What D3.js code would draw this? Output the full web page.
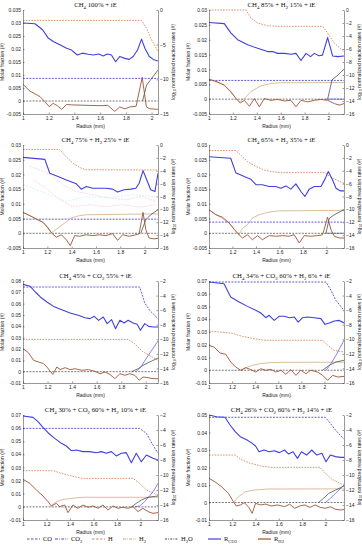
<!DOCTYPE html>
<html><head><meta charset="utf-8">
<script src="https://cdn.jsdelivr.net/npm/d3@7"></script>
<style>body{margin:0;background:#fff}svg{display:block}</style>
</head><body>
<svg id="c" width="362" height="550"></svg>
<script>
// ---------- tick labels ----------
const xTicks = [1, 1.2, 1.4, 1.6, 1.8, 2];
const leftTicksA = [-0.005, 0, 0.005, 0.01, 0.015, 0.02, 0.025, 0.03, 0.035];
const leftTicksB = [-0.005, 0, 0.005, 0.01, 0.015, 0.02, 0.025, 0.03];
const leftTicks5 = [-0.01, 0, 0.01, 0.02, 0.03, 0.04, 0.05, 0.06, 0.07, 0.08];
const leftTicks67 = [-0.01, 0, 0.01, 0.02, 0.03, 0.04, 0.05, 0.06, 0.07];
const leftTicks8 = [-0.01, 0, 0.01, 0.02, 0.03, 0.04, 0.05];
const rightTicks1 = [0, -5, -10, -15];
const rightTicks24 = [0, -2, -4, -6, -8, -10, -12, -14, -16];
const rightTicks58 = [-2, -4, -6, -8, -10, -12, -14, -16];
const legendLabels = [["CO"], ["CO", "2"], ["H"], ["H", "2"], ["H", "2", "O"], ["R", "CO2"], ["R", "H2"]];

// ---------- panel 1 ----------
const p1_Rco2 = [[1,0.030],[1.093,0.0297],[1.152,0.0274],[1.196,0.0242],[1.235,0.0229],[1.287,0.0216],[1.339,0.0203],[1.378,0.0196],[1.422,0.0177],[1.463,0.0184],[1.507,0.018],[1.546,0.0177],[1.59,0.0181],[1.624,0.0173],[1.655,0.0181],[1.688,0.0177],[1.72,0.0151],[1.752,0.0171],[1.792,0.0164],[1.826,0.016],[1.857,0.0171],[1.891,0.0196],[1.922,0.0238],[1.948,0.0203],[1.982,0.0171],[2.013,0.016],[2.05,0.0154]];
const p1_H = [[1,0.031],[1.92,0.031],[1.961,0.028],[2.0,0.0235],[2.05,0.019]];
const p1_CO = [[1,0.0087],[2.05,0.0087]];
const p1_Rh2 = [[1,0.0064],[1.054,0.0038],[1.132,0.0017],[1.171,-0.0003],[1.204,-0.0022],[1.235,-0.0009],[1.267,-0.0018],[1.301,-0.0032],[1.34,-0.0013],[1.378,-0.0015],[1.45,-0.0016],[1.52,-0.0017],[1.6,-0.0018],[1.66,-0.0017],[1.714,-0.004],[1.752,-0.0023],[1.792,-0.003],[1.83,-0.0023],[1.88,-0.002],[1.927,0.0091],[1.96,-0.0023],[1.987,-0.003],[2.05,-0.0032]];
const p1_H2 = [];
const p1_dark = [[1.93,0],[1.961,0.0061],[1.99,0.008],[2.05,0.0119]];
const p1_blue2 = [];

// ---------- panel 2 ----------
const p2_Rco2 = [[1,0.0258],[1.128,0.0254],[1.184,0.0222],[1.24,0.02],[1.324,0.0183],[1.407,0.0171],[1.491,0.016],[1.533,0.016],[1.575,0.0154],[1.631,0.0154],[1.686,0.0151],[1.728,0.0154],[1.77,0.013],[1.812,0.0154],[1.85,0.0143],[1.882,0.0154],[1.92,0.0146],[1.95,0.0148],[1.993,0.0207],[2.035,0.0145],[2.077,0.0143],[2.13,0.0145]];
const p2_H = [[1,0.03],[1.31,0.03],[1.351,0.0273],[1.407,0.0256],[1.491,0.0247],[1.575,0.0245],[1.95,0.0245],[1.994,0.0222],[2.05,0.0188],[2.13,0.016]];
const p2_CO = [[1,0.0063],[2.13,0.0063]];
const p2_Rh2 = [[1,0.0067],[1.072,0.0058],[1.128,0.0047],[1.184,0.0025],[1.226,0.0002],[1.262,-0.0013],[1.296,-0.0004],[1.338,-0.0024],[1.38,0.0002],[1.421,-0.0026],[1.463,0.0002],[1.519,-0.0004],[1.575,-0.0001],[1.631,-0.0006],[1.686,-0.0004],[1.728,-0.0026],[1.77,-0.0004],[1.826,-0.0009],[1.882,-0.0004],[1.937,-0.0001],[1.993,-0.0004],[2.05,-0.0015],[2.09,-0.002],[2.13,-0.0015]];
const p2_H2 = [[1,0.0067],[1.128,0.0047],[1.2,0.0015],[1.254,-0.0009],[1.296,0.0002],[1.35,0.0025],[1.43,0.0044],[1.52,0.0053],[1.6,0.0055],[2.13,0.0056]];
const p2_dark = [[1.993,0],[2.03,0.0065],[2.08,0.0081],[2.13,0.0101]];
const p2_blue2 = [[1.97,0],[2.13,0]];

// ---------- panel 3 ----------
const p3_Rco2 = [[1,0.0258],[1.18,0.0251],[1.22,0.0204],[1.288,0.0193],[1.356,0.0181],[1.438,0.0168],[1.479,0.015],[1.52,0.0159],[1.574,0.0153],[1.628,0.0153],[1.683,0.0153],[1.737,0.015],[1.778,0.014],[1.832,0.0148],[1.887,0.015],[1.928,0.0153],[1.955,0.017],[1.987,0.0213],[2.023,0.0176],[2.05,0.0148],[2.085,0.0142],[2.11,0.0204]];
const p3_H = [[1,0.0285],[1.3,0.0285],[1.356,0.026],[1.41,0.0238],[1.479,0.0221],[1.52,0.0216],[2.11,0.0215]];
const p3_CO = [[1,0.0048],[2.11,0.0048]];
const p3_Rh2 = [[1,0.0071],[1.057,0.006],[1.112,0.0048],[1.166,0.0037],[1.207,0.0018],[1.234,0.0001],[1.275,-0.0013],[1.316,-0.0005],[1.356,-0.0022],[1.389,-0.0042],[1.424,-0.0008],[1.465,-0.001],[1.52,-0.0005],[1.574,-0.0008],[1.628,-0.0005],[1.683,-0.0008],[1.737,-0.0001],[1.778,-0.0024],[1.819,-0.0005],[1.873,-0.001],[1.928,-0.0005],[1.955,-0.0001],[1.987,0.0071],[2.01,0.0012],[2.036,-0.0016],[2.077,-0.0019],[2.11,-0.0017]];
const p3_H2 = [[1,0.0071],[1.166,0.0037],[1.234,0.0001],[1.288,0.0018],[1.343,0.0035],[1.397,0.0052],[1.465,0.006],[1.52,0.0063],[2.11,0.0066]];
const p3_dark = [[1.968,0],[2.01,0.0046],[2.05,0.0063],[2.11,0.008]];
const p3_blue2 = [];
const p3_faintA = [[1.057,0.0229],[1.166,0.021],[1.248,0.0193],[1.329,0.0165],[1.438,0.0142],[1.574,0.0131],[1.71,0.012],[1.846,0.0114],[1.982,0.0125],[2.09,0.0108]];
const p3_faintB = [[1.084,0.0181],[1.193,0.0153],[1.302,0.0114],[1.41,0.0091],[1.547,0.0097],[1.683,0.0091],[1.819,0.0097],[1.955,0.0089],[2.09,0.0097]];
const p3_faintC = [[1.0,0.0165],[1.112,0.0148],[1.22,0.0131],[1.356,0.0108],[1.52,0.0125],[1.683,0.012],[1.9,0.0131],[2.09,0.0125]];

// ---------- panel 4 ----------
const p4_Rco2 = [[1,0.026],[1.185,0.0255],[1.228,0.0206],[1.3,0.0193],[1.356,0.0184],[1.4,0.0165],[1.455,0.0165],[1.512,0.0159],[1.569,0.0159],[1.612,0.0153],[1.655,0.0161],[1.697,0.015],[1.74,0.0168],[1.783,0.0142],[1.817,0.0125],[1.854,0.015],[1.897,0.0159],[1.954,0.0159],[1.988,0.0184],[2.016,0.021],[2.053,0.0181],[2.082,0.0153],[2.12,0.0144],[2.15,0.0144]];
const p4_H = [[1,0.0281],[1.228,0.0281],[1.27,0.0266],[1.327,0.0244],[1.4,0.0227],[1.47,0.0215],[1.527,0.021],[1.6,0.0206],[1.982,0.0206],[2.053,0.0187],[2.15,0.017]];
const p4_CO = [[1,0.0038],[2.15,0.0038]];
const p4_Rh2 = [[1,0.008],[1.057,0.0063],[1.114,0.0055],[1.171,0.0035],[1.213,0.0014],[1.256,-0.0005],[1.285,-0.0016],[1.327,-0.0005],[1.37,-0.0022],[1.413,-0.0008],[1.455,-0.0022],[1.512,-0.0008],[1.569,-0.001],[1.626,-0.0008],[1.683,-0.001],[1.726,-0.0005],[1.769,-0.0033],[1.811,-0.0008],[1.868,-0.001],[1.925,-0.0008],[1.968,-0.0005],[2.01,0.0055],[2.039,0.0012],[2.067,-0.001],[2.11,-0.0016],[2.15,-0.0016]];
const p4_H2 = [[1,0.008],[1.171,0.0035],[1.256,-0.0005],[1.285,0.0017],[1.327,0.0029],[1.37,0.0052],[1.427,0.0063],[1.498,0.0071],[1.584,0.0076],[2.15,0.0078]];
const p4_dark = [[1.996,0],[2.025,0.0051],[2.067,0.0063],[2.15,0.008]];
const p4_blue2 = [[1.99,0],[2.15,0]];

// ---------- panel 5 ----------
const p5_Rco2 = [[1,0.077],[1.059,0.0753],[1.1,0.0703],[1.141,0.0659],[1.195,0.0615],[1.249,0.0576],[1.316,0.0547],[1.384,0.0518],[1.451,0.0497],[1.505,0.0476],[1.546,0.0468],[1.581,0.0488],[1.616,0.0453],[1.654,0.0482],[1.686,0.0424],[1.722,0.0459],[1.754,0.0379],[1.789,0.0453],[1.824,0.0429],[1.857,0.0453],[1.897,0.0429],[1.93,0.0418],[1.957,0.0365],[1.992,0.0424],[2.024,0.04],[2.065,0.0394],[2.1,0.0394]];
const p5_CO = [[1,0.0747],[1.951,0.0747],[1.992,0.0606],[2.032,0.0541],[2.1,0.0468]];
const p5_H = [[1,0.0285],[1.857,0.0285],[1.91,0.0247],[1.978,0.0174],[2.03,0.0144],[2.1,0.01]];
const p5_Rh2 = [[1,0.0203],[1.046,0.0165],[1.086,0.01],[1.127,0.0085],[1.168,0.0071],[1.195,0.0041],[1.222,0.0003],[1.243,-0.0024],[1.276,0.0041],[1.303,0.0018],[1.343,0.0035],[1.384,0.0018],[1.424,0.0026],[1.478,0.0012],[1.532,0.0018],[1.586,0.0003],[1.627,-0.0018],[1.668,-0.0003],[1.708,-0.0024],[1.749,-0.0062],[1.789,-0.0018],[1.83,-0.0032],[1.87,-0.0018],[1.911,-0.0032],[1.946,-0.0076],[1.978,-0.0047],[2.019,-0.0053],[2.059,-0.0062],[2.1,-0.0062]];
const p5_H2 = [];
const p5_dark = [[1.884,0],[1.938,0.0026],[1.978,0.0056],[2.032,0.0085],[2.1,0.012]];
const p5_blue2 = [[1.92,0],[1.96,0.004],[2.0,0.011],[2.05,0.019],[2.1,0.027]];

// ---------- panel 6 ----------
const p6_Rco2 = [[1,0.0692],[1.13,0.0679],[1.188,0.0575],[1.261,0.0535],[1.333,0.0501],[1.405,0.047],[1.449,0.0449],[1.492,0.0412],[1.521,0.0431],[1.565,0.0391],[1.608,0.0423],[1.652,0.0423],[1.695,0.0412],[1.738,0.0418],[1.773,0.0378],[1.811,0.0412],[1.854,0.0418],[1.912,0.0412],[1.97,0.0405],[2.005,0.036],[2.043,0.0371],[2.086,0.0386],[2.129,0.0391],[2.17,0.0371]];
const p6_CO = [[1,0.0692],[2.014,0.0692],[2.057,0.0627],[2.1,0.0548],[2.17,0.047]];
const p6_H = [[1,0.0308],[1.188,0.0292],[1.29,0.0266],[1.39,0.0248],[1.478,0.0235],[1.985,0.0235],[2.028,0.0195],[2.086,0.0156],[2.17,0.0143]];
const p6_Rh2 = [[1,0.0195],[1.043,0.0182],[1.096,0.0135],[1.145,0.0125],[1.188,0.0065],[1.232,0.0025],[1.275,0],[1.319,0.002],[1.362,0.0005],[1.405,-0.0014],[1.449,0.0012],[1.492,0],[1.536,0.0007],[1.579,-0.0014],[1.623,0],[1.666,-0.0032],[1.71,0.0005],[1.753,-0.004],[1.796,0],[1.84,-0.0027],[1.883,0],[1.941,-0.0014],[1.985,-0.004],[2.028,-0.0079],[2.072,-0.004],[2.115,-0.0053],[2.17,-0.0048]];
const p6_H2 = [[1.275,0],[1.319,0.002],[1.376,0.0039],[1.449,0.0052],[1.536,0.006],[1.623,0.0062],[2.17,0.0063]];
const p6_dark = [[1.985,0],[2.043,0.0039],[2.1,0.0065],[2.17,0.0078]];
const p6_blue2 = [[2.014,0],[2.057,0.0052],[2.1,0.0117],[2.17,0.0235]];

// ---------- panel 7 ----------
const p7_Rco2 = [[1,0.0692],[1.085,0.0682],[1.128,0.0649],[1.17,0.0606],[1.213,0.0565],[1.27,0.0522],[1.327,0.0484],[1.369,0.0464],[1.412,0.0428],[1.454,0.0433],[1.511,0.0421],[1.568,0.0421],[1.625,0.0413],[1.667,0.0421],[1.71,0.0408],[1.752,0.0421],[1.795,0.0388],[1.838,0.0408],[1.88,0.0413],[1.923,0.0337],[1.965,0.0408],[2.008,0.0344],[2.051,0.0395],[2.107,0.037],[2.15,0.0357]];
const p7_CO = [[1,0.0598],[1.994,0.0598],[2.051,0.056],[2.107,0.0471],[2.15,0.0408]];
const p7_H = [[1,0.0276],[1.256,0.0276],[1.327,0.0256],[1.412,0.0235],[1.511,0.0217],[1.937,0.0217],[1.994,0.0179],[2.051,0.0129],[2.15,0.009]];
const p7_Rh2 = [[1,0.021],[1.057,0.0179],[1.114,0.0129],[1.17,0.0083],[1.213,0.004],[1.241,0.0007],[1.284,0.0027],[1.312,0.0002],[1.355,0.0014],[1.383,-0.0044],[1.426,0.0014],[1.468,-0.0011],[1.511,0.0014],[1.554,-0.0003],[1.596,0.0007],[1.639,-0.0011],[1.681,0.0014],[1.724,-0.0024],[1.767,0.0007],[1.809,-0.0011],[1.852,-0.0003],[1.894,-0.0011],[1.937,0.0002],[1.98,-0.0036],[2.022,-0.0011],[2.065,-0.0036],[2.107,-0.0049],[2.15,-0.0044]];
const p7_H2 = [[1.241,0.0007],[1.284,0.004],[1.341,0.0057],[1.412,0.0065],[1.511,0.0073],[2.15,0.0073]];
const p7_dark = [[1.923,0],[1.965,0.0027],[2.008,0.0052],[2.065,0.0073],[2.15,0.0083]];
const p7_blue2 = [[1.951,0],[1.994,0.0007],[2.036,0.004],[2.079,0.0083],[2.122,0.0134],[2.15,0.018]];

// ---------- panel 8 ----------
const p8_Rco2 = [[1,0.05],[1.064,0.049],[1.137,0.0487],[1.181,0.0443],[1.225,0.0405],[1.269,0.0376],[1.327,0.0357],[1.371,0.0338],[1.4,0.0323],[1.43,0.029],[1.473,0.03],[1.517,0.029],[1.561,0.0296],[1.605,0.0285],[1.649,0.03],[1.684,0.0277],[1.722,0.029],[1.76,0.0252],[1.795,0.029],[1.839,0.0271],[1.883,0.03],[1.926,0.0271],[1.97,0.0281],[2.005,0.0233],[2.043,0.0271],[2.087,0.0262],[2.131,0.0258],[2.16,0.0258]];
const p8_CO = [[1,0.0487],[1.999,0.0487],[2.043,0.0452],[2.087,0.0414],[2.16,0.0361]];
const p8_H = [[1,0.0271],[1.225,0.0271],[1.283,0.0243],[1.357,0.0224],[1.444,0.0209],[1.532,0.0201],[1.956,0.0201],[1.999,0.0167],[2.058,0.0132],[2.16,0.01]];
const p8_Rh2 = [[1,0.0138],[1.05,0.0119],[1.108,0.009],[1.167,0.0052],[1.21,0.0005],[1.234,-0.002],[1.269,-0.0014],[1.304,-0.0001],[1.342,-0.0028],[1.371,-0.0062],[1.4,-0.0005],[1.444,-0.0014],[1.488,-0.0009],[1.532,-0.002],[1.59,-0.0014],[1.649,-0.0024],[1.693,-0.001],[1.736,-0.0033],[1.78,-0.002],[1.824,-0.0014],[1.868,-0.0028],[1.912,-0.0014],[1.956,-0.0028],[2.0,-0.0033],[2.043,-0.0024],[2.087,-0.0039],[2.131,-0.0043],[2.16,-0.0039]];
const p8_H2 = [[1.21,0],[1.254,0.0033],[1.313,0.0062],[1.386,0.0071],[1.503,0.0077],[2.16,0.0078]];
const p8_dark = [[1.941,0],[1.985,0.0024],[2.029,0.0052],[2.087,0.0071],[2.16,0.0094]];
const p8_blue2 = [[2.0,0],[2.043,0.0024],[2.087,0.0052],[2.16,0.01]];

// ---------- panel setup ----------
const panels = [
  {title:[["CH"],["4",1],[" 100% + iE"]], xd:[1,2.05], yl:[-0.005,0.035], lt:leftTicksA, yr:[-15,0], rt:rightTicks1,
   Rco2:p1_Rco2,H:p1_H,CO:p1_CO,Rh2:p1_Rh2,H2:p1_H2,dark:p1_dark,blue2:p1_blue2,faint:[]},
  {title:[["CH"],["4",1],[" 85% + H"],["2",1],[" 15% + iE"]], xd:[1,2.13], yl:[-0.005,0.03], lt:leftTicksB, yr:[-16,0], rt:rightTicks24,
   Rco2:p2_Rco2,H:p2_H,CO:p2_CO,Rh2:p2_Rh2,H2:p2_H2,dark:p2_dark,blue2:p2_blue2,faint:[]},
  {title:[["CH"],["4",1],[" 75% + H"],["2",1],[" 25% + iE"]], xd:[1,2.11], yl:[-0.005,0.03], lt:leftTicksB, yr:[-16,0], rt:rightTicks24,
   Rco2:p3_Rco2,H:p3_H,CO:p3_CO,Rh2:p3_Rh2,H2:p3_H2,dark:p3_dark,blue2:p3_blue2,faint:[p3_faintA,p3_faintB,p3_faintC]},
  {title:[["CH"],["4",1],[" 65% + H"],["2",1],[" 35% + iE"]], xd:[1,2.15], yl:[-0.005,0.03], lt:leftTicksB, yr:[-16,0], rt:rightTicks24,
   Rco2:p4_Rco2,H:p4_H,CO:p4_CO,Rh2:p4_Rh2,H2:p4_H2,dark:p4_dark,blue2:p4_blue2,faint:[]},
  {title:[["CH"],["4",1],[" 45% + CO"],["2",1],[" 55% + iE"]], xd:[1,2.1], yl:[-0.01,0.08], lt:leftTicks5, yr:[-16,-2], rt:rightTicks58,
   Rco2:p5_Rco2,H:p5_H,CO:p5_CO,Rh2:p5_Rh2,H2:p5_H2,dark:p5_dark,blue2:p5_blue2,faint:[]},
  {title:[["CH"],["4",1],[" 34% + CO"],["2",1],[" 60% + H"],["2",1],[" 6% + iE"]], xd:[1,2.17], yl:[-0.01,0.07], lt:leftTicks67, yr:[-16,-2], rt:rightTicks58,
   Rco2:p6_Rco2,H:p6_H,CO:p6_CO,Rh2:p6_Rh2,H2:p6_H2,dark:p6_dark,blue2:p6_blue2,faint:[]},
  {title:[["CH"],["4",1],[" 30% + CO"],["2",1],[" 60% + H"],["2",1],[" 10% + iE"]], xd:[1,2.15], yl:[-0.01,0.07], lt:leftTicks67, yr:[-16,-2], rt:rightTicks58,
   Rco2:p7_Rco2,H:p7_H,CO:p7_CO,Rh2:p7_Rh2,H2:p7_H2,dark:p7_dark,blue2:p7_blue2,faint:[]},
  {title:[["CH"],["4",1],[" 26% + CO"],["2",1],[" 60% + H"],["2",1],[" 14% + iE"]], xd:[1,2.16], yl:[-0.01,0.05], lt:leftTicks8, yr:[-16,-2], rt:rightTicks58,
   Rco2:p8_Rco2,H:p8_H,CO:p8_CO,Rh2:p8_Rh2,H2:p8_H2,dark:p8_dark,blue2:p8_blue2,faint:[]}
];

const colX = [[23,158],[209,344]];
const rowY = [[10,114],[145,248],[281,383],[415,520]];

const C = {
  blue:"#4040dc", blueDash:"#3a3ad6", brown:"#9a5535", orange:"#d47848", orange2:"#c8905a", dark:"#2e3e30", black:"#222"
};
const sans = "'Liberation Sans', Arial, sans-serif";
const serif = "'Liberation Serif', 'Times New Roman', serif";

const svg = d3.select("#c");
const fmt = v => (Math.abs(v) < 1e-12 ? "0" : String(+v.toFixed(3)));

// rich text with subscripts; shift in absolute px so the baseline comes back exactly
function richText(sel, parts, subSize, shift) {
  let prevSub = false;
  parts.forEach(p => {
    const t = sel.append("tspan").text(p[0]);
    const isSub = !!p[1];
    if (isSub) t.attr("font-size", subSize);
    if (isSub && !prevSub) t.attr("dy", shift);
    else if (!isSub && prevSub) t.attr("dy", -shift);
    prevSub = isSub;
  });
}

panels.forEach((p, i) => {
  const [x0, x1] = colX[i % 2];
  const [yT, yB] = rowY[Math.floor(i / 2)];
  const x = d3.scaleLinear().domain(p.xd).range([x0, x1]);
  const yL = d3.scaleLinear().domain(p.yl).range([yB, yT]);
  const yR = d3.scaleLinear().domain(p.yr).range([yB, yT]);
  const g = svg.append("g");

  const cid = "clip" + i;
  svg.append("clipPath").attr("id", cid).append("rect")
    .attr("x", x0).attr("y", yT - 2).attr("width", x1 - x0).attr("height", yB - yT + 2);
  const plot = g.append("g").attr("clip-path", `url(#${cid})`);

  const line = d3.line().x(d => x(d[0])).y(d => yL(d[1]));
  const draw = (data, color, w, dash, op) => {
    if (!data || !data.length) return;
    plot.append("path").datum(data).attr("d", line).attr("fill", "none")
      .attr("stroke", color).attr("stroke-width", w)
      .attr("stroke-dasharray", dash || null).attr("opacity", op == null ? 1 : op)
      .attr("stroke-linejoin", "round");
  };

  p.faint.forEach((f, k) => draw(f, k === 2 ? "#9ee8ee" : "#f2a0c8", 0.6, "2,1", 0.7));

  draw([[p.xd[0], 0], [p.xd[1], 0]], C.black, 0.6, "2,1.2");
  draw(p.CO, C.blueDash, 0.8, "2,1.2");
  draw(p.H, C.orange, 0.8, "1.6,1.2");
  draw(p.H2, C.orange2, 0.6, null);
  draw(p.dark, C.dark, 0.7, null);
  draw(p.blue2, "#5050e6", 0.7, null);
  draw(p.Rh2, C.brown, 0.9, null);
  draw(p.Rco2, C.blue, 1.1, null);

  const axStyle = sel => {
    sel.selectAll("path").attr("stroke", "#333").attr("stroke-width", 0.5);
    sel.selectAll("line").attr("stroke", "#333").attr("stroke-width", 0.5);
    sel.selectAll("text").attr("font-size", 5).attr("font-family", sans).attr("fill", "#222");
  };
  g.append("g").attr("transform", `translate(${x0},0)`)
    .call(d3.axisLeft(yL).tickValues(p.lt).tickFormat(fmt).tickSizeInner(-1.5).tickSizeOuter(0).tickPadding(2))
    .call(axStyle);
  g.append("g").attr("transform", `translate(${x1},0)`)
    .call(d3.axisRight(yR).tickValues(p.rt).tickFormat(d3.format("d")).tickSizeInner(-1.5).tickSizeOuter(0).tickPadding(2))
    .call(axStyle);
  g.append("g").attr("transform", `translate(0,${yB})`)
    .call(d3.axisBottom(x).tickValues(xTicks).tickFormat(d => String(d)).tickSizeInner(-1.5).tickSizeOuter(0).tickPadding(2))
    .call(axStyle);

  const cy = (yT + yB) / 2;
  g.append("text").attr("transform", `translate(${x0 - 19},${cy}) rotate(-90)`)
    .attr("text-anchor", "middle").attr("font-size", 5).attr("font-family", sans).attr("fill", "#222")
    .text("Molar fraction (#)");
  const rl = g.append("text").attr("transform", `translate(${x1 + 17},${cy}) rotate(-90)`)
    .attr("text-anchor", "middle").attr("font-size", 5).attr("font-family", sans).attr("fill", "#222");
  richText(rl, [["log"], ["10", 1], [" normalized reaction rates (#)"]], 3.6, 1.2);
  g.append("text").attr("x", (x0 + x1) / 2).attr("y", yB + 14)
    .attr("text-anchor", "middle").attr("font-size", 5).attr("font-family", sans).attr("fill", "#222")
    .text("Radius (mm)");
  const tt = g.append("text").attr("x", (x0 + x1) / 2 + 5).attr("y", yT - 3)
    .attr("text-anchor", "middle").attr("font-size", 6.8).attr("font-family", serif).attr("fill", "#111");
  richText(tt, p.title, 4.8, 1.5);
});

// ---------- legend ----------
const legendItems = [
  {c:C.blueDash, d:"2.5,1.5", w:0.9},
  {c:C.blueDash, d:"3,1.2,0.8,1.2", w:0.9},
  {c:C.orange, d:"2.5,1.5", w:0.9},
  {c:C.orange2, d:"3,1.2,0.8,1.2", w:0.9},
  {c:"#111", d:"2,1.2,0.8,1.2", w:0.8},
  {c:C.blue, d:null, w:1.2},
  {c:C.brown, d:null, w:1.2}
];
const legX = [27, 55, 92, 123, 165, 208, 258];
const ly = 539;
legendItems.forEach((it, i) => {
  const lx = legX[i];
  svg.append("line").attr("x1", lx).attr("x2", lx + 13).attr("y1", ly).attr("y2", ly)
    .attr("stroke", it.c).attr("stroke-width", it.w).attr("stroke-dasharray", it.d);
  const t = svg.append("text").attr("x", lx + 16).attr("y", ly + 2.2)
    .attr("font-size", 6.5).attr("font-family", serif).attr("fill", "#111");
  const lab = legendLabels[i];
  const parts = lab.length === 1 ? [[lab[0]]] : (lab.length === 3 ? [[lab[0]], [lab[1], 1], [lab[2]]] : [[lab[0]], [lab[1], 1]]);
  richText(t, parts, 4.6, 1.4);
});
</script>
</body></html>
